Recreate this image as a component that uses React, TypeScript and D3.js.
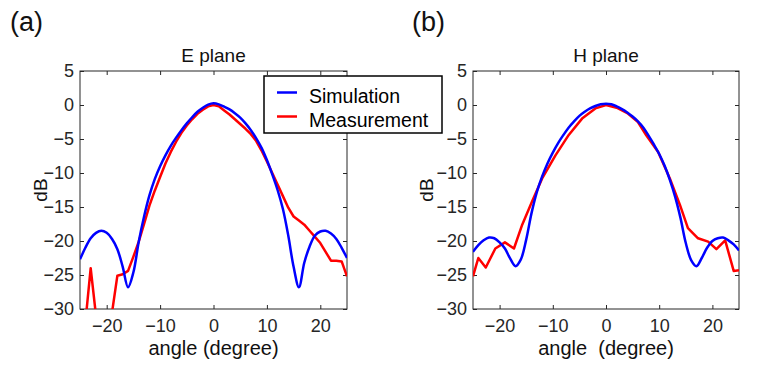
import React, { useEffect, useRef } from 'react';
import * as d3 from 'd3';

// simulated pattern, sampled every degree from -25 to 25
const simAngles = d3.range(-25, 26);
const simE = [
  -22.7, -21.0, -19.6, -18.8, -18.5, -18.8, -19.7, -21.2, -23.8, -26.8,
  -24.6, -20.1, -16.4, -13.3, -10.9, -9.0, -7.4, -6.0, -4.8, -3.7,
  -2.7, -1.8, -1.0, -0.4, 0.05,
  0.25,
  0.1, -0.25, -0.65, -1.2, -1.85, -2.7, -3.7, -4.9, -6.3, -8.1,
  -10.2, -12.5, -15.3, -19.2, -23.8, -26.8, -23.2, -20.8, -19.2, -18.6,
  -18.5, -18.9, -19.7, -21.0, -22.5,
];
const simH = [
  -21.6, -20.6, -19.9, -19.5, -19.6, -20.2, -21.1, -22.6, -23.7, -22.7,
  -19.8, -15.9, -12.8, -10.5, -8.6, -7.0, -5.6, -4.4, -3.3, -2.4,
  -1.6, -1.0, -0.5, -0.15, 0.1,
  0.2,
  0.1, -0.2, -0.6, -1.1, -1.7, -2.4, -3.3, -4.5, -5.8, -7.2,
  -8.9, -11.0, -13.5, -16.6, -20.3, -22.8, -23.7, -22.5, -21.0, -20.0,
  -19.6, -19.5, -19.9, -20.5, -21.4,
];

// measured pattern
const measAnglesE = d3.range(-25, 26);
const measE = [
  -40, -32, -24, -31, -40, -40, -30.5, -25.1, -24.9, -24.4,
  -22.3, -20.1, -17.5, -14.8, -12.6, -10.6, -8.6, -6.9, -5.4, -4.1,
  -3.0, -2.1, -1.3, -0.7, -0.2,
  0,
  -0.2, -0.8, -1.4, -2.1, -2.8, -3.5, -4.3, -5.3, -6.7, -8.3,
  -10.0, -11.7, -13.4, -15.1, -16.4, -17.0, -17.6, -18.5, -19.4, -20.3,
  -21.6, -22.9, -22.9, -23.0, -25.2,
];
const measAnglesH = [
  -25, -24, -22.6, -20.8, -19, -17.3, -15.75, -13.9, -12, -9.5, -7, -4.5, -2, 0,
  2, 4, 6, 7.6, 9.8, 12, 13.9, 15.4, 17.3, 19.2, 20.75, 22.4, 24, 25,
];
const measH = [
  -25.2, -22.5, -23.9, -21.1, -20.2, -21.1, -17.6, -14.2, -10.8, -7.4, -4.4, -2.0, -0.5, 0,
  -0.4, -1.2, -2.5, -4.5, -6.9, -10.8, -14.7, -18.1, -19.6, -20.1, -21.2, -19.9, -24.4, -24.3,
];

const xTicks = [-20, -10, 0, 10, 20];
const yTicks = [5, 0, -5, -10, -15, -20, -25, -30];
const seriesNames = ['Simulation', 'Measurement'];

const FONT = '"Liberation Sans", Arial, Helvetica, sans-serif';
const AXIS = '#262626';
const BLUE = '#0000ff';
const RED = '#ff0000';

const panels = [
  { id: 'e', tag: '(a)', title: 'E plane', xLabel: 'angle (degree)', sim: simE, measX: measAnglesE, meas: measE,
    x0: 80, x1: 347, tagX: 10, dbX: 47 },
  { id: 'h', tag: '(b)', title: 'H plane', xLabel: 'angle  (degree)', sim: simH, measX: measAnglesH, meas: measH,
    x0: 473, x1: 739, tagX: 412, dbX: 433 },
];

const App = () => {
  const ref = useRef<SVGSVGElement>(null);

  useEffect(() => {
    const svg = d3.select(ref.current);
    svg.selectAll('*').remove();
    const top = 71, bottom = 309;

    panels.forEach(p => {
      const x = d3.scaleLinear().domain([-25, 25]).range([p.x0, p.x1]);
      const y = d3.scaleLinear().domain([-30, 5]).range([bottom, top]);
      const g = svg.append('g');

      g.append('clipPath').attr('id', `clip-${p.id}`)
        .append('rect').attr('x', p.x0).attr('y', top)
        .attr('width', p.x1 - p.x0).attr('height', bottom - top);

      // axes, ticks pointing inwards on all four sides
      const styleAxis = (sel: any) => {
        sel.select('.domain').remove();
        sel.selectAll('line').attr('stroke', AXIS);
        sel.selectAll('text').attr('fill', AXIS).attr('font-family', FONT).attr('font-size', 18);
      };
      g.append('g').attr('transform', `translate(0,${bottom})`)
        .call(d3.axisBottom(x).tickValues(xTicks).tickSizeInner(-4).tickSizeOuter(0).tickPadding(10))
        .call(styleAxis);
      g.append('g').attr('transform', `translate(0,${top})`)
        .call(d3.axisTop(x).tickValues(xTicks).tickSizeInner(-4).tickSizeOuter(0).tickFormat(() => ''))
        .call(styleAxis);
      g.append('g').attr('transform', `translate(${p.x0},0)`)
        .call(d3.axisLeft(y).tickValues(yTicks).tickSizeInner(-4).tickSizeOuter(0).tickPadding(6))
        .call(styleAxis);
      g.append('g').attr('transform', `translate(${p.x1},0)`)
        .call(d3.axisRight(y).tickValues(yTicks).tickSizeInner(-4).tickSizeOuter(0).tickFormat(() => ''))
        .call(styleAxis);

      g.append('rect').attr('x', p.x0).attr('y', top)
        .attr('width', p.x1 - p.x0).attr('height', bottom - top)
        .attr('fill', 'none').attr('stroke', AXIS).attr('stroke-width', 1);

      const plot = g.append('g').attr('clip-path', `url(#clip-${p.id})`);
      const measLine = d3.line<number>().x((_, i) => x(p.measX[i])).y(d => y(d));
      const simLine = d3.line<number>().x((_, i) => x(simAngles[i])).y(d => y(d)).curve(d3.curveCatmullRom);

      plot.append('path').attr('d', measLine(p.meas))
        .attr('fill', 'none').attr('stroke', RED).attr('stroke-width', 2.5).attr('stroke-linejoin', 'round');
      plot.append('path').attr('d', simLine(p.sim))
        .attr('fill', 'none').attr('stroke', BLUE).attr('stroke-width', 2.5);

      const cx = (p.x0 + p.x1) / 2;
      g.append('text').attr('x', cx).attr('y', 61.5).attr('text-anchor', 'middle')
        .attr('font-family', FONT).attr('font-size', 19).attr('fill', '#111').text(p.title);
      g.append('text').attr('x', cx).attr('y', 355).attr('text-anchor', 'middle')
        .style('white-space', 'pre')
        .attr('font-family', FONT).attr('font-size', 20).attr('fill', '#111').text(p.xLabel);
      g.append('text').attr('transform', `translate(${p.dbX},190) rotate(-90)`).attr('text-anchor', 'middle')
        .attr('font-family', FONT).attr('font-size', 19).attr('fill', '#111').text('dB');
      g.append('text').attr('x', p.tagX).attr('y', 31)
        .attr('font-family', FONT).attr('font-size', 27).attr('fill', '#111').text(p.tag);
    });

    // legend
    const lg = svg.append('g');
    lg.append('rect').attr('x', 264).attr('y', 76).attr('width', 178).attr('height', 57)
      .attr('fill', 'white').attr('stroke', '#000').attr('stroke-width', 1.5);
    [BLUE, RED].forEach((c, i) => {
      lg.append('line').attr('x1', 277).attr('x2', 297)
        .attr('y1', 92.5 + i * 24).attr('y2', 92.5 + i * 24)
        .attr('stroke', c).attr('stroke-width', 2.5);
      lg.append('text').attr('x', 309).attr('y', 103.3 + i * 23.4)
        .attr('font-family', FONT).attr('font-size', 19.5).attr('fill', '#000').text(seriesNames[i]);
    });
  }, []);

  return (
    <svg ref={ref} width={767} height={368}
      style={{ position: 'absolute', left: 0, top: 0, background: 'white' }} />
  );
};

export default App;
